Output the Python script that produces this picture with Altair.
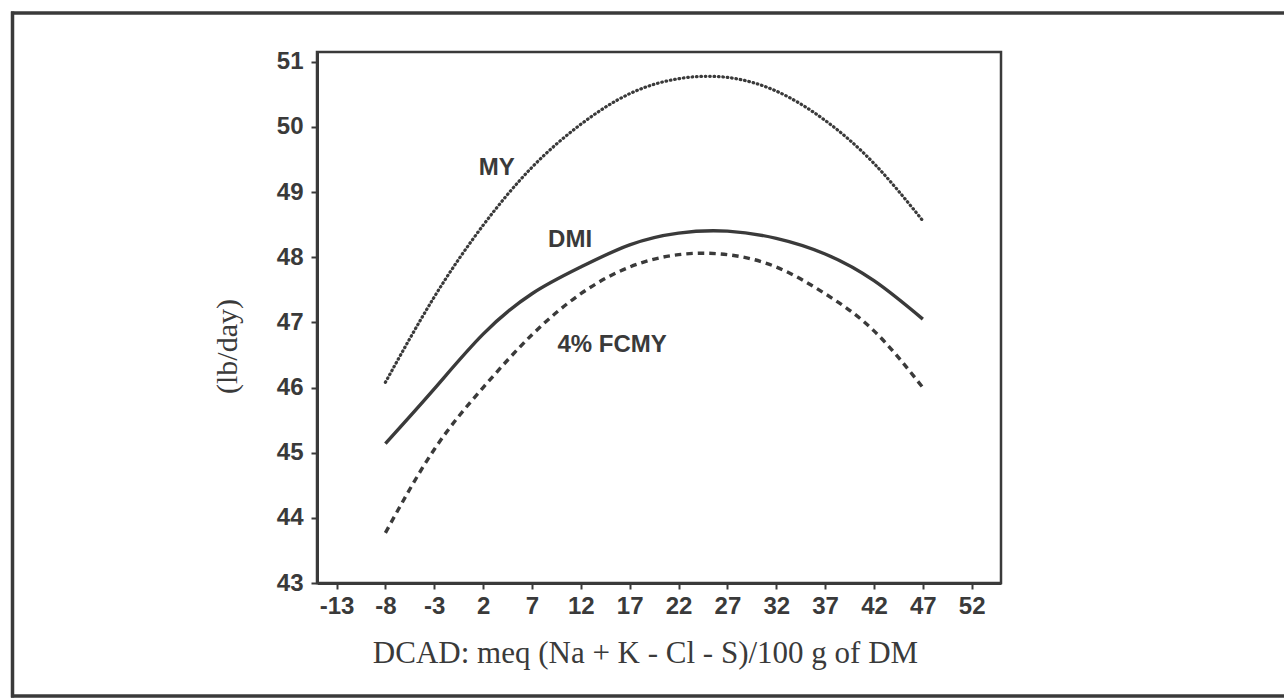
import altair as alt
import pandas as pd

# ---- data ----
dcad = [-8, -3, 2, 7, 12, 17, 22, 27, 32, 37, 42, 47]
my_lb = [46.08, 47.39, 48.49, 49.38, 50.04, 50.51, 50.74, 50.76, 50.55, 50.10, 49.44, 48.56]
dmi_lb = [45.14, 45.98, 46.82, 47.44, 47.85, 48.19, 48.37, 48.40, 48.29, 48.05, 47.64, 47.05]
fcmy_lb = [43.77, 45.05, 46.00, 46.81, 47.44, 47.85, 48.04, 48.04, 47.85, 47.44, 46.87, 46.00]

x_ticks = [-13, -8, -3, 2, 7, 12, 17, 22, 27, 32, 37, 42, 47, 52]
y_ticks = [43, 44, 45, 46, 47, 48, 49, 50, 51]

label_text = ["MY", "DMI", "4% FCMY"]
label_x = [3.4, 10.9, 15.2]
label_y = [49.37, 48.26, 46.65]

INK = "#3a3a3a"

df = pd.DataFrame({
    "x": dcad * 3,
    "y": my_lb + dmi_lb + fcmy_lb,
    "s": ["MY"] * len(dcad) + ["DMI"] * len(dcad) + ["FCMY"] * len(dcad),
})
labels = pd.DataFrame({"t": label_text, "x": label_x, "y": label_y})

xs = alt.Scale(domain=[-15, 55], nice=False, zero=False)
ys = alt.Scale(domain=[43, 51.15], nice=False, zero=False)

x_axis = alt.Axis(
    values=x_ticks, labelExpr="datum.value + ''", grid=False,
    title="DCAD: meq (Na + K - Cl - S)/100 g of DM",
    titleFont="Liberation Serif", titleFontSize=31, titleFontWeight="normal",
    titleColor=INK, titleX=328, titleY=79, titleAlign="center",
    titleBaseline="alphabetic",
    labelFont="Liberation Sans", labelFontSize=24, labelFontWeight="bold",
    labelColor=INK, labelPadding=5, tickSize=6, tickWidth=2, tickColor=INK,
    domainColor=INK, domainWidth=3,
)
y_axis = alt.Axis(
    values=y_ticks, format="d", grid=False, title="(lb/day)",
    titleFont="Liberation Serif", titleFontSize=30, titleFontWeight="normal",
    titleColor=INK, titleX=-90, titleY=294, titleAlign="center",
    titleBaseline="middle", titleAngle=270,
    labelFont="Liberation Sans", labelFontSize=24, labelFontWeight="bold",
    labelColor=INK, labelPadding=8, tickSize=6, tickWidth=2, tickColor=INK,
    domainColor=INK, domainWidth=3,
)

base = alt.Chart(df).encode(
    x=alt.X("x:Q", scale=xs, axis=x_axis),
    y=alt.Y("y:Q", scale=ys, axis=y_axis),
)

my_line = base.transform_filter(alt.datum.s == "MY").mark_line(
    color=INK, strokeWidth=3.2, strokeDash=[0.6, 3.8], strokeCap="round",
    interpolate="natural")
dmi_line = base.transform_filter(alt.datum.s == "DMI").mark_line(
    color=INK, strokeWidth=3.4, interpolate="natural")
fcmy_line = base.transform_filter(alt.datum.s == "FCMY").mark_line(
    color=INK, strokeWidth=3.4, strokeDash=[6.5, 5], interpolate="natural")

text = alt.Chart(labels).mark_text(
    font="Liberation Sans", fontSize=24, fontWeight="bold", color=INK,
    align="center", baseline="middle",
).encode(x=alt.X("x:Q", scale=xs), y=alt.Y("y:Q", scale=ys), text="t:N")

# decorative outer frame (top, left, bottom edges; right edge lies off the page)
one = pd.DataFrame({"a": [0]})
frame_top = alt.Chart(one).mark_rule(color=INK, strokeWidth=3.5).encode(
    x=alt.value(-306), x2=alt.value(967), y=alt.value(-39))
frame_left = alt.Chart(one).mark_rule(color=INK, strokeWidth=3.5).encode(
    x=alt.value(-304.5), y=alt.value(-40.5), y2=alt.value(645.5))
frame_bottom = alt.Chart(one).mark_rule(color=INK, strokeWidth=3.5).encode(
    x=alt.value(-306), x2=alt.value(967), y=alt.value(644))

chart = alt.layer(frame_top, frame_left, frame_bottom,
                  my_line, dmi_line, fcmy_line, text).properties(
    width=684, height=531,
    autosize=alt.AutoSizeParams(type="none"),
    padding={"left": 317, "top": 52, "right": 283, "bottom": 115},
).configure_view(stroke=INK, strokeWidth=2.5)

chart.save("out.html", embed_options={"renderer": "svg", "actions": False})
